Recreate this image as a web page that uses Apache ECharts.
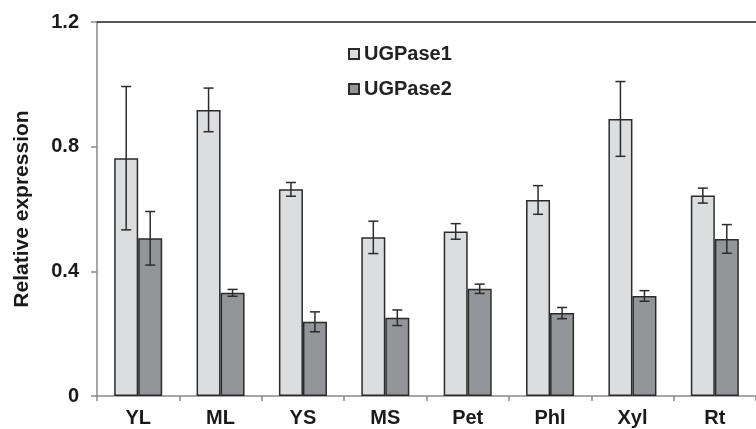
<!DOCTYPE html>
<html><head><meta charset="utf-8">
<script src="https://cdn.jsdelivr.net/npm/echarts@6/dist/echarts.min.js"></script>
<style>html,body{margin:0;padding:0;background:#fff}#c{width:756px;height:429px}</style>
</head><body><div id="c"></div>
<script>
const categories = ['YL','ML','YS','MS','Pet','Phl','Xyl','Rt'];
const ugp1 = [0.763,0.918,0.663,0.509,0.528,0.629,0.889,0.643];
const ugp1Err = [0.23,0.07,0.022,0.052,0.025,0.046,0.12,0.024];
const ugp2 = [0.506,0.331,0.238,0.251,0.344,0.266,0.321,0.504];
const ugp2Err = [0.086,0.011,0.032,0.025,0.015,0.018,0.017,0.046];
const yTicks = [0,0.4,0.8,1.2];

const BAR_W = 24;
const chart = echarts.init(document.getElementById('c'));
const font = 'Liberation Sans, Arial, sans-serif';

function errSeries(vals, errs, offset) {
  return {
    type: 'custom',
    xAxisIndex: 0, yAxisIndex: 0,
    silent: true, z: 10,
    data: vals.map((v, i) => [i, v - errs[i], v + errs[i]]),
    renderItem: function (params, api) {
      const lo = api.coord([api.value(0), api.value(1)]);
      const hi = api.coord([api.value(0), api.value(2)]);
      const x = lo[0] + offset;
      const cap = 5;
      const st = { stroke: '#2b2b2b', lineWidth: 1.5 };
      return {
        type: 'group',
        children: [
          { type: 'line', shape: { x1: x, y1: lo[1], x2: x, y2: hi[1] }, style: st },
          { type: 'line', shape: { x1: x - cap, y1: lo[1], x2: x + cap, y2: lo[1] }, style: st },
          { type: 'line', shape: { x1: x - cap, y1: hi[1], x2: x + cap, y2: hi[1] }, style: st }
        ]
      };
    }
  };
}

chart.setOption({
  animation: false,
  grid: { left: 97, top: 22, width: 669, height: 374 },
  legend: {
    orient: 'vertical', left: 343, top: 39,
    itemWidth: 10, itemHeight: 10, itemGap: 15,
    icon: 'rect',
    data: ['UGPase1', 'UGPase2'],
    textStyle: { fontFamily: font, fontWeight: 'bold', fontSize: 20, lineHeight: 20, color: '#222' }
  },
  xAxis: [{
    type: 'category', data: categories,
    axisLine: { lineStyle: { color: '#8a8a8a', width: 1.5 } },
    axisTick: { show: true, length: 5, alignWithLabel: false, lineStyle: { color: '#8a8a8a', width: 1.5 } },
    axisLabel: { fontFamily: font, fontWeight: 'bold', fontSize: 20, color: '#1a1a1a', margin: 12 }
  }, {
    type: 'category', data: categories, position: 'top',
    axisLine: { show: true, lineStyle: { color: '#222', width: 1.5 } },
    axisTick: { show: false }, axisLabel: { show: false }
  }],
  yAxis: {
    type: 'value', min: 0, max: 1.2, interval: 0.4,
    name: 'Relative expression', nameLocation: 'middle', nameGap: 64,
    nameTextStyle: { fontFamily: font, fontWeight: 'bold', fontSize: 21, color: '#1a1a1a' },
    axisLine: { show: true, lineStyle: { color: '#8a8a8a', width: 1.5 } },
    axisTick: { show: true, length: 6, lineStyle: { color: '#8a8a8a', width: 1.5 } },
    splitLine: { show: false },
    axisLabel: {
      fontFamily: font, fontWeight: 'bold', fontSize: 20, color: '#1a1a1a', margin: 18,
      formatter: v => (yTicks.indexOf(v) >= 0 ? (v === 0 ? '0' : v.toFixed(1)) : '')
    }
  },
  series: [
    { name: 'UGPase1', type: 'bar', data: ugp1, barWidth: BAR_W, barGap: '0%',
      itemStyle: { color: '#dcdddf', borderColor: '#2b2b2b', borderWidth: 1.5 } },
    { name: 'UGPase2', type: 'bar', data: ugp2, barWidth: BAR_W, barGap: '0%',
      itemStyle: { color: '#939598', borderColor: '#2b2b2b', borderWidth: 1.5 } },
    errSeries(ugp1, ugp1Err, -BAR_W / 2),
    errSeries(ugp2, ugp2Err, BAR_W / 2)
  ]
});
</script></body></html>
